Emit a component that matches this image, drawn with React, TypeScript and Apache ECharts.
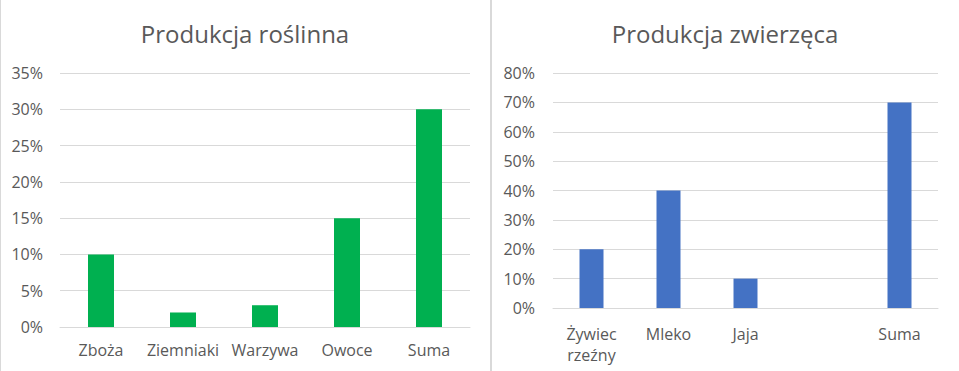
import React, { useEffect, useRef } from "react";
import * as echarts from "echarts";

const plantCategories = ["Zboża", "Ziemniaki", "Warzywa", "Owoce", "Suma"];
const plantValues = [10, 2, 3, 15, 30];
const animalCategories = ["Żywiec\nrzeźny", "Mleko", "Jaja", "", "Suma"];
const animalValues: (number | null)[] = [20, 40, 10, null, 70];
const plantTitle = "Produkcja roślinna";
const animalTitle = "Produkcja zwierzęca";

const FONT = "'Segoe UI', 'Open Sans', 'Noto Sans', sans-serif";
const TEXT = "#595959";
const GRID = "#d9d9d9";

export default function App() {
  const ref = useRef<HTMLDivElement>(null);
  useEffect(() => {
    if (!ref.current) return;
    const chart = echarts.init(ref.current, undefined, { renderer: "svg" });
    const axisLabel = { color: TEXT, fontSize: 16, fontFamily: FONT };
    chart.setOption({
      animation: false,
      backgroundColor: "#fff",
      textStyle: { fontFamily: FONT },
      grid: [
        { left: 60, right: 489, top: 73, bottom: 44 },
        { left: 553, right: 21, top: 73, bottom: 63 },
      ],
      xAxis: [
        {
          gridIndex: 0,
          type: "category",
          data: plantCategories,
          axisTick: { show: false },
          axisLine: { lineStyle: { color: GRID, width: 1 } },
          axisLabel: { ...axisLabel, margin: 15, interval: 0 },
        },
        {
          gridIndex: 1,
          type: "category",
          data: animalCategories,
          axisTick: { show: false },
          axisLine: { lineStyle: { color: GRID, width: 1 } },
          axisLabel: { ...axisLabel, margin: 15, interval: 0, lineHeight: 21 },
        },
      ],
      yAxis: [
        {
          gridIndex: 0,
          type: "value",
          min: 0,
          max: 35,
          interval: 5,
          axisLine: { show: false },
          axisTick: { show: false },
          splitLine: { lineStyle: { color: GRID, width: 1 } },
          axisLabel: { ...axisLabel, margin: 17, formatter: "{value}%" },
        },
        {
          gridIndex: 1,
          type: "value",
          min: 0,
          max: 80,
          interval: 10,
          axisLine: { show: false },
          axisTick: { show: false },
          splitLine: { lineStyle: { color: GRID, width: 1 } },
          axisLabel: { ...axisLabel, margin: 18, formatter: "{value}%" },
        },
      ],
      series: [
        {
          type: "bar",
          xAxisIndex: 0,
          yAxisIndex: 0,
          data: plantValues,
          barWidth: 26,
          itemStyle: { color: "#00B050" },
        },
        {
          type: "bar",
          xAxisIndex: 1,
          yAxisIndex: 1,
          data: animalValues,
          barWidth: 24,
          itemStyle: { color: "#4472C4" },
        },
      ],
      graphic: [
        {
          type: "rect",
          shape: { x: 0, y: 0, width: 1, height: 371 },
          style: { fill: GRID },
        },
        {
          type: "rect",
          shape: { x: 490, y: 0, width: 2, height: 371 },
          style: { fill: GRID },
        },
        {
          type: "text",
          x: 245,
          y: 33,
          style: {
            text: plantTitle,
            fontSize: 24,
            fontFamily: FONT,
            fill: TEXT,
            align: "center",
            verticalAlign: "middle",
          },
        },
        {
          type: "text",
          x: 725,
          y: 33,
          style: {
            text: animalTitle,
            fontSize: 24,
            fontFamily: FONT,
            fill: TEXT,
            align: "center",
            verticalAlign: "middle",
          },
        },
      ],
    });
    return () => chart.dispose();
  }, []);
  return (
    <div
      ref={ref}
      style={{ position: "fixed", left: 0, top: 0, width: 959, height: 371 }}
    />
  );
}
